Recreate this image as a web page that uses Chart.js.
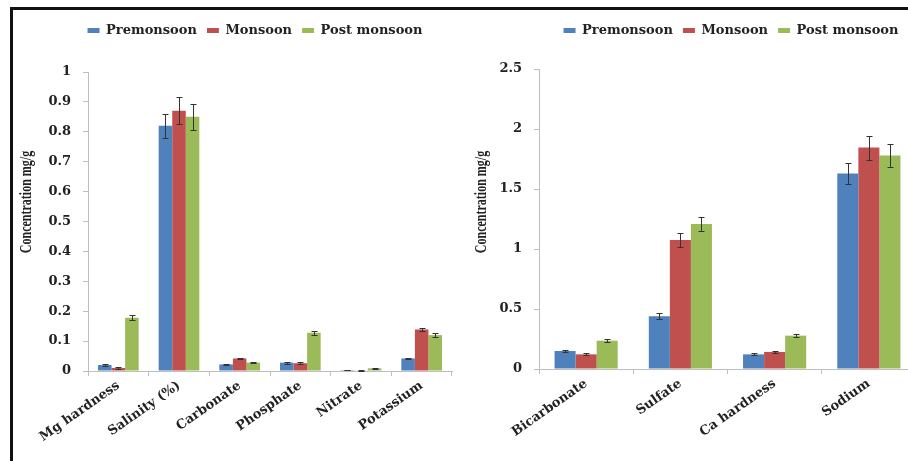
<!DOCTYPE html>
<html>
<head>
<meta charset="utf-8">
<script src="https://cdn.jsdelivr.net/npm/chart.js@4.4.1/dist/chart.umd.min.js"></script>
<style>
  html, body { margin: 0; padding: 0; background: #fff; overflow: hidden; }
  #page { position: relative; width: 908px; height: 461px; overflow: hidden; background: #fff; }
  #frame { position: absolute; left: 10px; top: 7px; width: 1000px; height: 1000px;
           border-left: 3px solid #111; border-top: 3px solid #111; }
  #leftChart { position: absolute; left: 0; top: 0; }
  #rightChart { position: absolute; left: 460px; top: 0; }
</style>
</head>
<body>
<div id="page">
  <div id="frame"></div>
  <canvas id="leftChart" width="510" height="461"></canvas>
  <canvas id="rightChart" width="542" height="461"></canvas>
</div>
<script>
// seasons
const seasons = ["Premonsoon", "Monsoon", "Post monsoon"];
const seasonColors = ["#4F81BD", "#C0504D", "#9BBB59"];

// left panel: minor parameters
const leftCategories = ["Mg hardness", "Salinity (%)", "Carbonate", "Phosphate", "Nitrate", "Potassium"];
const leftPre = [0.020, 0.820, 0.022, 0.028, 0.003, 0.042];
const leftMon = [0.010, 0.870, 0.042, 0.026, 0.002, 0.139];
const leftPost = [0.178, 0.850, 0.028, 0.128, 0.009, 0.120];
const leftPreErr = [0.003, 0.040, 0.003, 0.003, 0.001, 0.003];
const leftMonErr = [0.002, 0.045, 0.003, 0.003, 0.001, 0.005];
const leftPostErr = [0.008, 0.043, 0.002, 0.006, 0.002, 0.006];
const leftMax = 1, leftStep = 0.1;

// right panel: major ions
const rightCategories = ["Bicarbonate", "Sulfate", "Ca hardness", "Sodium"];
const rightPre = [0.150, 0.440, 0.122, 1.630];
const rightMon = [0.122, 1.075, 0.142, 1.845];
const rightPost = [0.236, 1.208, 0.278, 1.780];
const rightPreErr = [0.010, 0.025, 0.008, 0.085];
const rightMonErr = [0.008, 0.060, 0.008, 0.100];
const rightPostErr = [0.012, 0.060, 0.012, 0.095];
const rightMax = 2.5, rightStep = 0.5;

const yTitle = "Concentration mg/g";
const axisGray = "#bfbfbf";
const textColor = "#222";
const tickFont = { family: "DejaVu Serif", size: 13, weight: "bold" };

// draws +/- error whiskers on top of every bar
const errorBars = {
  id: "errorBars",
  afterDatasetsDraw(chart) {
    const ctx = chart.ctx;
    const y = chart.scales.y;
    ctx.save();
    ctx.strokeStyle = "#333";
    ctx.lineWidth = 1;
    chart.data.datasets.forEach((ds, i) => {
      chart.getDatasetMeta(i).data.forEach((bar, j) => {
        const v = ds.data[j], e = ds.errors[j];
        const x = Math.round(bar.x) + 0.5;
        const top = Math.round(y.getPixelForValue(v + e)) + 0.5;
        const bot = Math.round(y.getPixelForValue(v - e)) + 0.5;
        ctx.beginPath();
        ctx.moveTo(x, top); ctx.lineTo(x, bot);
        ctx.moveTo(x - 3, top); ctx.lineTo(x + 3, top);
        ctx.moveTo(x - 3, bot); ctx.lineTo(x + 3, bot);
        ctx.stroke();
      });
    });
    ctx.restore();
  }
};

// vertical axis caption, drawn narrow and tall
const axisCaption = {
  id: "axisCaption",
  afterDraw(chart, args, opts) {
    const ctx = chart.ctx;
    ctx.save();
    ctx.translate(opts.x, opts.y);
    ctx.rotate(-Math.PI / 2);
    ctx.scale(1, 1.45);
    ctx.font = "bold 12px 'Liberation Serif'";
    ctx.fillStyle = textColor;
    ctx.textAlign = "center";
    ctx.textBaseline = "middle";
    ctx.fillText(opts.text, 0, 0);
    ctx.restore();
  }
};

const trimZeros = v => String(Number(v.toFixed(2)));

function makeChart(id, labels, series, errors, max, step, geo) {
  return new Chart(document.getElementById(id), {
    type: "bar",
    data: {
      labels: labels,
      datasets: series.map((data, i) => ({
        label: seasons[i],
        data: data,
        errors: errors[i],
        backgroundColor: seasonColors[i],
        borderWidth: 0,
        categoryPercentage: 0.67,
        barPercentage: 1.0
      }))
    },
    options: {
      responsive: false,
      animation: false,
      layout: { padding: { top: 14, left: 0, right: 0, bottom: 0 } },
      plugins: {
        legend: {
          position: "top",
          labels: {
            boxWidth: 12,
            boxHeight: 5,
            padding: 10,
            color: textColor,
            font: tickFont
          }
        },
        // blank gap between the legend and the plot
        title: {
          display: true,
          text: "",
          weight: 500,
          font: { size: 10, lineHeight: 1 },
          padding: { top: geo.gap, bottom: 0 }
        },
        tooltip: { enabled: false },
        axisCaption: { text: yTitle, x: geo.captionX, y: 202 }
      },
      scales: {
        x: {
          grid: { drawOnChartArea: false, drawTicks: true, tickLength: 5, color: axisGray, offset: true },
          border: { color: axisGray },
          ticks: { color: textColor, font: tickFont, minRotation: 35, maxRotation: 35, padding: 2, autoSkip: false },
          afterFit(s) { s.height = geo.xHeight; }
        },
        y: {
          min: 0,
          max: max,
          grid: { drawOnChartArea: false, drawTicks: true, tickLength: 5, color: axisGray },
          border: { color: axisGray },
          ticks: { stepSize: step, color: textColor, font: tickFont, padding: 12, callback: trimZeros },
          afterFit(s) { s.width = geo.yWidth; }
        },
        // empty strip on the right that keeps the plot narrower than the canvas
        pad: {
          position: "right",
          display: true,
          grid: { display: false },
          border: { display: false },
          ticks: { display: false },
          afterFit(s) { s.width = geo.rightPad; }
        }
      }
    },
    plugins: [errorBars, axisCaption]
  });
}

makeChart("leftChart", leftCategories, [leftPre, leftMon, leftPost],
  [leftPreErr, leftMonErr, leftPostErr], leftMax, leftStep,
  { yWidth: 88, gap: 15, xHeight: 90, rightPad: 58, captionX: 27 });

makeChart("rightChart", rightCategories, [rightPre, rightMon, rightPost],
  [rightPreErr, rightMonErr, rightPostErr], rightMax, rightStep,
  { yWidth: 79, gap: 12, xHeight: 92, rightPad: 86, captionX: 22 });
</script>
</body>
</html>
